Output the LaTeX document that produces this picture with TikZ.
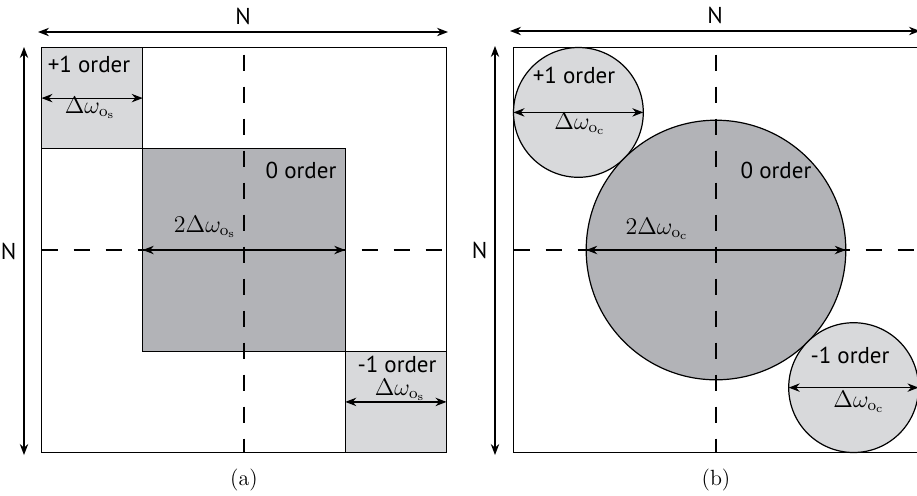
\documentclass[tikz,border=0pt]{standalone}
\usepackage{fontspec}
\setsansfont{PT Sans}
\usetikzlibrary{arrows.meta,positioning}
\definecolor{orderlight}{HTML}{D8D9DB}
\definecolor{orderdark}{HTML}{B2B3B7}

\begin{document}
\begin{tikzpicture}[x=0.5pt, y=-0.5pt,
    every node/.style={font=\sffamily\fontsize{11.5}{13}\selectfont, inner sep=0pt},
    frame/.style={draw, line width=0.65pt, minimum size=202.5pt, outer sep=0pt},
    sqsmall/.style={draw, line width=0.6pt, fill=orderlight, minimum size=50.6pt, outer sep=0pt},
    sqbig/.style={draw, line width=0.6pt, fill=orderdark, minimum size=101.25pt, outer sep=0pt},
    circsmall/.style={circle, draw, line width=0.6pt, fill=orderlight, minimum size=64.9pt, outer sep=0pt},
    circbig/.style={circle, draw, line width=0.6pt, fill=orderdark, minimum size=129.8pt, outer sep=0pt},
    dimarrow/.style={{Stealth[length=5.5pt,width=4.2pt]}-{Stealth[length=5.5pt,width=4.2pt]}, line width=0.6pt},
    vaxis/.style={dash pattern=on 8pt off 8pt, dash phase=12.5pt, line width=0.6pt},
    haxis/.style={dash pattern=on 8pt off 8pt, line width=0.6pt},
    caption/.style={font=\rmfamily\fontsize{11}{13}\selectfont},
]
\useasboundingbox (0,0) rectangle (917,495);

% (a) square orders
\node[frame] (fa) at (244,250) {};
\node[sqsmall] (pa) at (92.1,98.1) {};
\node[sqbig] (za) at (244,250) {};
\node[sqsmall] (ma) at (395.9,401.9) {};

\draw[vaxis] (fa.north) -- (fa.south);
\draw[haxis] (fa.west) -- (fa.east);

\draw[dimarrow] (pa.west) -- (pa.east);
\draw[dimarrow] (za.west) -- (za.east);
\draw[dimarrow] (ma.west) -- (ma.east);

\node (pal) at (89,64) {+1 order};
\node (paw) at (90,108) {$\Delta\omega_{\mathrm{o}_{\mathrm{s}}}$};
\node (zal) at (301,170) {0 order};
\node (zaw) at (205,227) {$2\Delta\omega_{\mathrm{o}_{\mathrm{s}}}$};
\node (mal) at (397,364) {-1 order};
\node (maw) at (400,390) {$\Delta\omega_{\mathrm{o}_{\mathrm{s}}}$};

\coordinate (ta1) at (38,32);
\coordinate (ta2) at (448,32);
\coordinate (la1) at (24,47);
\coordinate (la2) at (24,455);
\draw[dimarrow] (ta1) -- node[above=3.5pt] (tan) {N} (ta2);
\draw[dimarrow] (la1) -- node[left=3.5pt] (lan) {N} (la2);
\node[caption] (capa) at (244,480) {(a)};

% (b) circular orders
\node[frame] (fb) at (716,250) {};
\node[circsmall] (pb) at (578.4,112.4) {};
\node[circbig] (zb) at (716,250) {};
\node[circsmall] (mb) at (853.6,387.6) {};

\draw[vaxis] (fb.north) -- (fb.south);
\draw[haxis] (fb.west) -- (fb.east);

\draw[dimarrow] (pb.west) -- (pb.east);
\draw[dimarrow] (zb.west) -- (zb.east);
\draw[dimarrow] (mb.west) -- (mb.east);

\node (pbl) at (574,75) {+1 order};
\node (pbw) at (580,124) {$\Delta\omega_{\mathrm{o}_{\mathrm{c}}}$};
\node (zbl) at (776,170) {0 order};
\node (zbw) at (657,229) {$2\Delta\omega_{\mathrm{o}_{\mathrm{c}}}$};
\node (mbl) at (850,355) {-1 order};
\node (mbw) at (859,402) {$\Delta\omega_{\mathrm{o}_{\mathrm{c}}}$};

\coordinate (tb1) at (510,31);
\coordinate (tb2) at (920,31);
\coordinate (lb1) at (495,46);
\coordinate (lb2) at (495,455);
\draw[dimarrow] (tb1) -- node[above=3.5pt] (tbn) {N} (tb2);
\draw[dimarrow] (lb1) -- node[left=3.5pt] (lbn) {N} (lb2);
\node[caption] (capb) at (716,480) {(b)};
\end{tikzpicture}
\end{document}
